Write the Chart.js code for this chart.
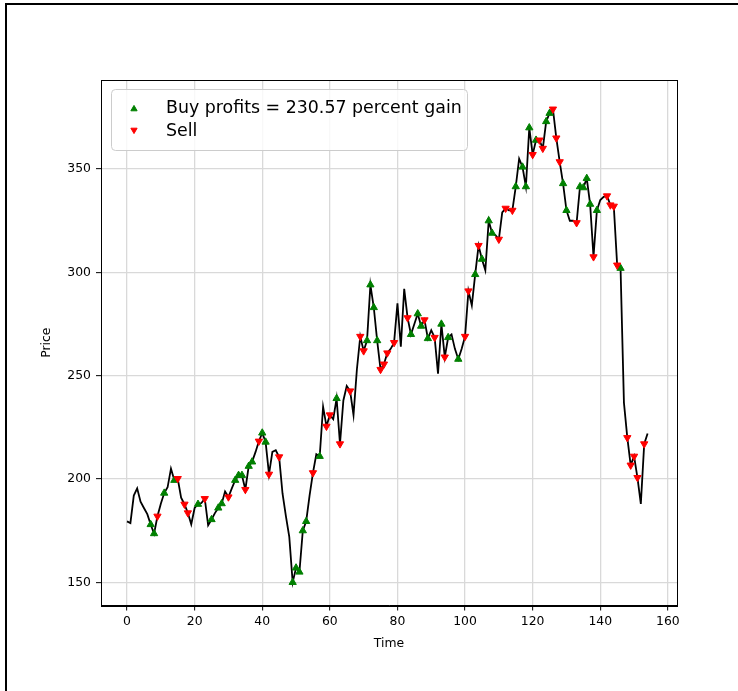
<!DOCTYPE html>
<html>
<head>
<meta charset="utf-8">
<script src="https://cdn.jsdelivr.net/npm/chart.js@4.4.1/dist/chart.umd.min.js"></script>
<style>
  html, body { margin: 0; padding: 0; background: #ffffff; }
  #wrap { position: relative; width: 738px; height: 691px; overflow: hidden; }
  #frame { position: absolute; left: 5px; top: 3px; width: 760px; height: 720px; border: 2px solid #000; }
  #chart { position: absolute; left: 0; top: 0; }
</style>
</head>
<body>
<div id="wrap">
  <div id="frame"></div>
  <canvas id="chart" width="738" height="691"></canvas>
</div>
<script>
/* ======================================================
   Datos
====================================================== */
const PRICES = [
  179.5, 178.7, 192, 195.5, 189, 186, 183, 178, 173.6, 182,
  188, 193.2, 196, 205, 199.4, 200.2, 191, 187.8, 183.6, 178.1,
  186, 187.8, 188.4, 190.5, 177.6, 180.4, 183.5, 186, 188.1, 194,
  191.3, 195.5, 199.4, 201.8, 201.8, 194.9, 206.2, 208.3, 213, 218.3,
  222.3, 217.9, 202.3, 213.1, 213.9, 210.7, 193, 182, 172, 150,
  157, 155, 175, 179.5, 192, 203, 212, 211, 235, 225.5,
  231, 229, 239, 217, 238, 245, 242.6, 231, 253, 269,
  262, 267, 294, 283, 267, 253, 255.6, 261, 263, 266,
  285, 264, 292, 278, 270, 275, 280, 274, 277, 268,
  272, 268.5, 251, 275, 259, 268.5, 270, 263, 258, 263,
  269, 291, 284, 299, 313, 306.4, 301, 325, 319, 318,
  316, 329, 331, 330, 330, 341.5, 355, 351, 341.5, 370,
  357, 364, 364, 360, 373, 377, 379, 365, 353.5, 343,
  330, 325, 325, 324, 341.5, 341, 345.5, 333, 307.5, 330,
  335, 336.6, 337, 332.6, 332, 303.5, 302, 237, 220, 206.7,
  211, 200.7, 188, 217, 222
];

const BUY_DAYS = [
  7, 8, 11, 14, 21, 25, 27, 28, 32, 33, 34, 36, 37, 40, 41,
  49, 50, 51, 52, 53, 57, 62, 71, 72, 73, 74, 84, 86, 87, 89,
  93, 95, 98, 103, 105, 107, 108, 115, 117, 118, 119, 121, 124, 125,
  129, 130, 134, 135, 136, 137, 139, 146
];

const SELL_DAYS = [
  9, 15, 17, 18, 23, 30, 35, 39, 42, 45, 55, 59, 60, 63, 66, 69,
  70, 75, 76, 77, 79, 83, 88, 91, 94, 100, 101, 104, 110, 112, 114,
  120, 122, 123, 126, 127, 128, 133, 138, 142, 143, 144, 145, 148,
  149, 150, 151, 153
];

const X_TICKS = [0, 20, 40, 60, 80, 100, 120, 140, 160];
const Y_TICKS = [150, 200, 250, 300, 350];

const BUY_LABEL = 'Buy profits = 230.57 percent gain';
const SELL_LABEL = 'Sell';


/* ======================================================
   Estilos
====================================================== */
const FONT = 'DejaVu Sans';
const TICK_FONT = { family: FONT, size: 12.4 };
const GRID_COLOR = '#d9d9d9';
const GREEN = '#008000';
const RED = '#ff0000';

function scaleBase(ticks) {
  return {
    type: 'linear',
    afterBuildTicks(scale) {
      scale.ticks = ticks.map(v => ({ value: v }));
    },
    grid: {
      color: GRID_COLOR,
      lineWidth: 1.3,
      tickColor: '#000',
      tickLength: 5,
      tickWidth: 1
    },
    border: { color: '#000', width: 1 },
    ticks: {
      color: '#000',
      font: TICK_FONT,
      autoSkip: false,
      maxRotation: 0
    }
  };
}


/* ======================================================
   Plugin: marco del área y leyenda
====================================================== */
function triangle(ctx, x, y, r, down, color) {
  const s = down ? -1 : 1;
  ctx.beginPath();
  ctx.moveTo(x, y - s * r);
  ctx.lineTo(x - r * 0.866, y + s * r * 0.5);
  ctx.lineTo(x + r * 0.866, y + s * r * 0.5);
  ctx.closePath();
  ctx.fillStyle = color;
  ctx.strokeStyle = color;
  ctx.lineWidth = 1;
  ctx.fill();
  ctx.stroke();
}

const framePlugin = {
  id: 'frameLegend',
  afterDraw(chart) {
    const { ctx, chartArea: a } = chart;
    ctx.save();
    ctx.strokeStyle = '#000';
    ctx.lineWidth = 1;
    ctx.strokeRect(Math.round(a.left) + 0.5, Math.round(a.top) + 0.5,
      Math.round(a.right - a.left), Math.round(a.bottom - a.top));

    // leyenda
    ctx.beginPath();
    ctx.roundRect(111.5, 89.5, 356, 61, 4);
    ctx.fillStyle = 'rgba(255,255,255,0.8)';
    ctx.fill();
    ctx.strokeStyle = '#cccccc';
    ctx.stroke();

    const rows = [
      { label: chart.data.datasets[1].label, color: GREEN, down: false, y: 108 },
      { label: chart.data.datasets[2].label, color: RED, down: true, y: 131 }
    ];
    ctx.font = `17.4px "${FONT}"`;
    ctx.textBaseline = 'middle';
    rows.forEach(r => {
      triangle(ctx, 134, r.y + (r.down ? -1 : 1), 3.6, r.down, r.color);
      ctx.fillStyle = '#000';
      ctx.fillText(r.label, 166, r.y);
    });
    ctx.restore();
  }
};


/* ======================================================
   Gráfica
====================================================== */
const linePoints = PRICES.map((p, i) => ({ x: i, y: p }));
const buyPoints = BUY_DAYS.map(d => ({ x: d, y: PRICES[d] }));
const sellPoints = SELL_DAYS.map(d => ({ x: d, y: PRICES[d] }));

const xScale = scaleBase(X_TICKS);
Object.assign(xScale, {
  min: -7.7,
  max: 162.7,
  afterFit(scale) { scale.height = 46; },
  title: { display: true, text: 'Time', color: '#000', font: TICK_FONT, padding: 0 }
});
xScale.ticks.padding = 4;

const yScale = scaleBase(Y_TICKS);
Object.assign(yScale, {
  min: 138.8,
  max: 393.1,
  afterFit(scale) { scale.width = 61.5; },
  title: { display: true, text: 'Price', color: '#000', font: TICK_FONT, padding: 0 }
});
yScale.ticks.padding = 5;

new Chart(document.getElementById('chart'), {
  type: 'line',
  data: {
    datasets: [
      {
        label: 'Close',
        data: linePoints,
        borderColor: '#000',
        borderWidth: 1.8,
        pointRadius: 0,
        tension: 0,
        order: 3
      },
      {
        type: 'scatter',
        label: BUY_LABEL,
        data: buyPoints,
        pointStyle: 'triangle',
        pointRadius: 4.2,
        backgroundColor: GREEN,
        borderColor: GREEN,
        borderWidth: 1,
        order: 2
      },
      {
        type: 'scatter',
        label: SELL_LABEL,
        data: sellPoints,
        pointStyle: 'triangle',
        rotation: 180,
        pointRadius: 4.2,
        backgroundColor: RED,
        borderColor: RED,
        borderWidth: 1,
        order: 1
      }
    ]
  },
  options: {
    responsive: false,
    animation: false,
    devicePixelRatio: 1,
    layout: { padding: { left: 39.5, top: 80, right: 61, bottom: 39.5 } },
    plugins: {
      legend: { display: false },
      tooltip: { enabled: false }
    },
    scales: { x: xScale, y: yScale }
  },
  plugins: [framePlugin]
});
</script>
</body>
</html>
